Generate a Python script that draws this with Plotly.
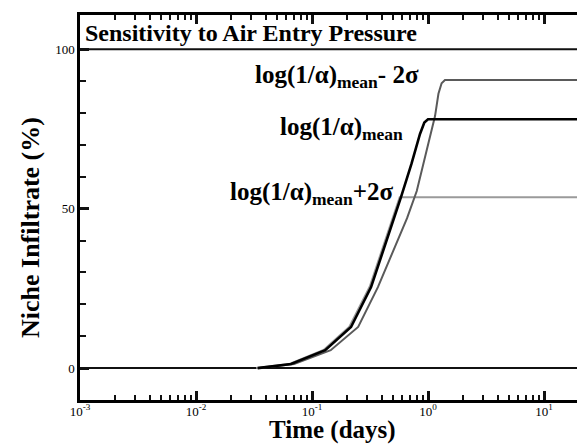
import plotly.graph_objects as go

# ---- data ----
time_plus = [0.033, 0.064, 0.126, 0.21, 0.315, 0.44, 0.57, 100]
val_plus = [0, 1.3, 5.7, 13.0, 25.6, 41.2, 53.6, 53.6]

time_mean = [0.034, 0.066, 0.13, 0.217, 0.323, 0.452, 0.585, 0.72, 0.853, 0.93, 1.0, 100]
val_mean = [0, 1.3, 5.6, 12.9, 25.4, 41.0, 53.6, 64.0, 73.4, 77.0, 78.0, 78.0]

time_minus = [0.035, 0.07, 0.145, 0.25, 0.37, 0.52, 0.66, 0.80, 0.93, 1.06, 1.15, 1.23, 1.31, 1.40, 100]
val_minus = [0, 1.3, 5.6, 12.9, 25.4, 38.0, 47.0, 55.5, 65.0, 73.4, 79.0, 86.0, 89.3, 90.3, 90.3]

ref_levels = [0, 100]
x_major = [0.001, 0.01, 0.1, 1, 10]
x_labels = ["10<sup>-3</sup>", "10<sup>-2</sup>", "10<sup>-1</sup>", "10<sup>0</sup>", "10<sup>1</sup>"]
y_major = [0, 50, 100]
y_labels = ["0", "50", "100"]

FONT = "Liberation Serif"

x_minor = [d * m for d in [0.001, 0.01, 0.1, 1, 10] for m in range(2, 10)]
y_minor = [v for v in range(10, 100, 10) if v != 50]

fig = go.Figure()

for lvl in ref_levels:
    fig.add_trace(go.Scatter(x=[0.001, 100], y=[lvl, lvl], mode="lines",
                             line=dict(color="#111", width=2), showlegend=False, hoverinfo="skip"))

fig.add_trace(go.Scatter(x=time_plus, y=val_plus, mode="lines",
                         line=dict(color="#9a9a9a", width=2), showlegend=False))
fig.add_trace(go.Scatter(x=time_minus, y=val_minus, mode="lines",
                         line=dict(color="#5a5a5a", width=2), showlegend=False))
fig.add_trace(go.Scatter(x=time_mean, y=val_mean, mode="lines",
                         line=dict(color="#000", width=2.6), showlegend=False))

W, H = 585, 446
L, R, T, B = 72, 0, 7, 54
pw, ph = W - L - R, H - T - B


def px(xp):
    return (xp - L) / pw


def py(yp):
    return (H - B - yp) / ph


anns = [
    dict(text="<b>Sensitivity to Air Entry Pressure</b>", x=px(75), y=py(25),
         xanchor="left", yanchor="middle", font=dict(size=24)),
    dict(text="<b>log(1/α)<sub>mean</sub>- 2σ</b>", x=px(413), y=py(68),
         xanchor="right", yanchor="middle", font=dict(size=25)),
    dict(text="<b>log(1/α)<sub>mean</sub></b>", x=px(397), y=py(120),
         xanchor="right", yanchor="middle", font=dict(size=25)),
    dict(text="<b>log(1/α)<sub>mean</sub>+2σ</b>", x=px(388), y=py(185),
         xanchor="right", yanchor="middle", font=dict(size=25)),
    dict(text="<b>Niche Infiltrate (%)</b>", x=px(22), y=py(220), textangle=-90,
         xanchor="center", yanchor="middle", font=dict(size=26)),
    dict(text="<b>Time (days)</b>", x=px(324), y=py(422),
         xanchor="center", yanchor="middle", font=dict(size=25)),
]
for a in anns:
    a.update(xref="paper", yref="paper", showarrow=False)
    a["font"].update(family=FONT, color="#000")

fig.update_layout(
    width=W, height=H,
    margin=dict(l=L, r=R, t=T, b=B, pad=0),
    paper_bgcolor="white", plot_bgcolor="white",
    font=dict(family=FONT, color="#000", size=13),
    annotations=anns,
    xaxis=dict(type="log", range=[-3, -3 + pw / 116.0],
               tickvals=x_major, ticktext=x_labels, ticks="inside", ticklen=9, tickwidth=2.5,
               tickcolor="#111", showline=True, linewidth=3, linecolor="black", mirror="ticks",
               showgrid=False, zeroline=False, tickfont=dict(size=13, family=FONT),
               ticklabelstandoff=-3,
               minor=dict(tickvals=x_minor, ticks="inside", ticklen=5, tickwidth=2,
                          tickcolor="#111", showgrid=False)),
    yaxis=dict(range=[-10, 110.7], tickvals=y_major, ticktext=y_labels,
               ticks="inside", ticklen=9, tickwidth=2.5, tickcolor="#111",
               showline=True, linewidth=2.5, linecolor="black",
               showgrid=False, zeroline=False, tickfont=dict(size=13, family=FONT),
               minor=dict(tickvals=y_minor, ticks="inside", ticklen=6, tickwidth=2,
                          tickcolor="#111", showgrid=False)),
)

fig.write_html("out.html")
